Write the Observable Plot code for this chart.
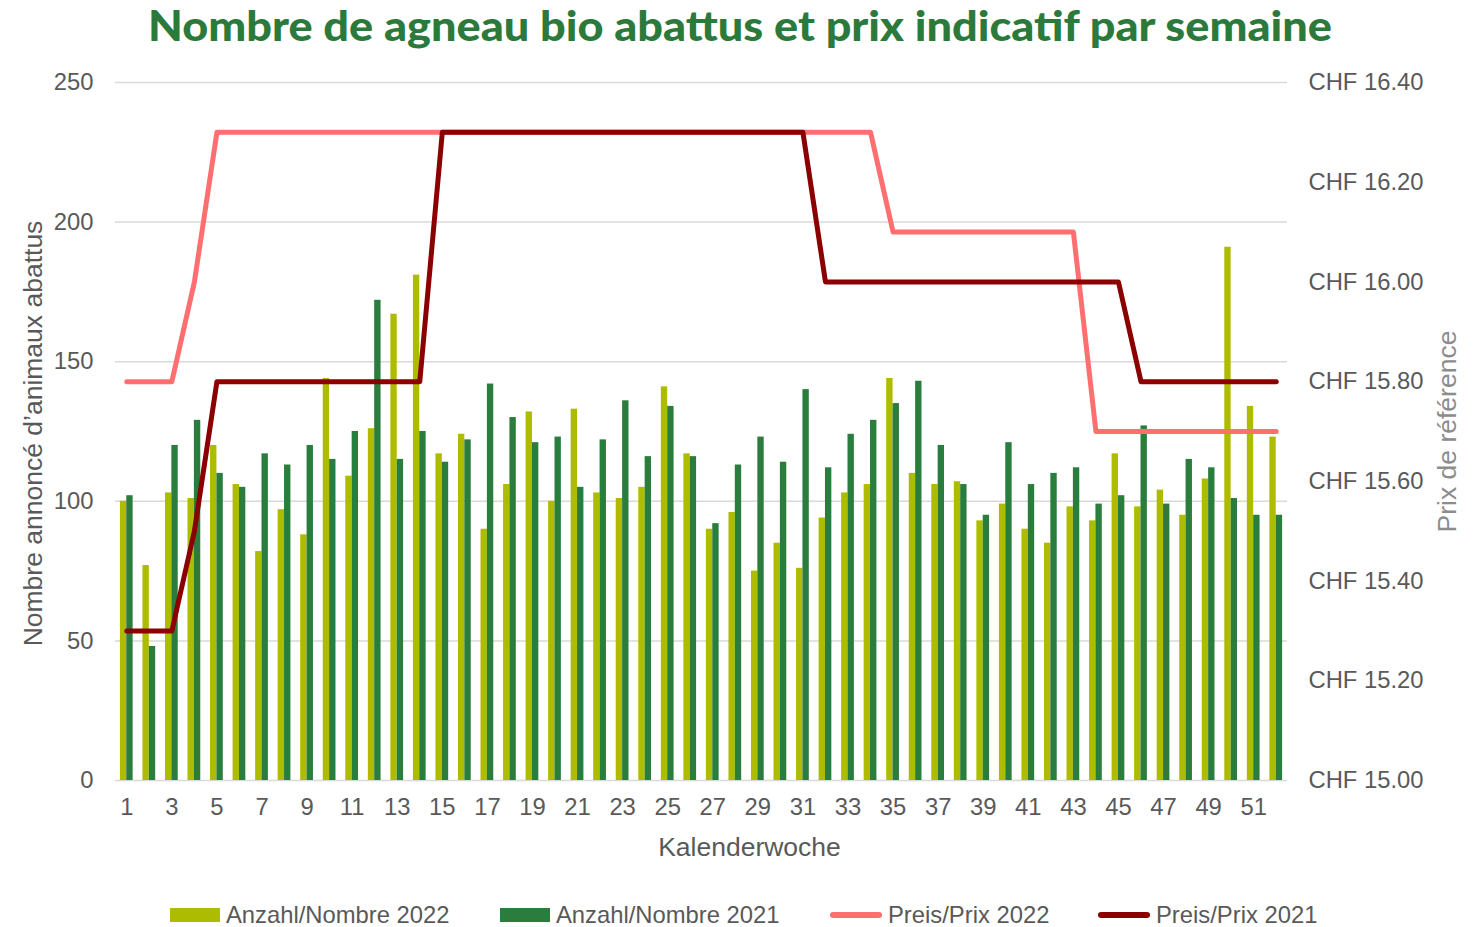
<!DOCTYPE html>
<html><head><meta charset="utf-8">
<script src="https://cdn.jsdelivr.net/npm/d3@7"></script>
<script src="https://cdn.jsdelivr.net/npm/@observablehq/plot@0.6"></script>
<style>
body{margin:0;background:#fff;font-family:"Liberation Sans",Arial,sans-serif;}
#wrap{position:relative;width:1473px;height:927px;overflow:hidden;background:#fff;}
#title{position:absolute;left:0;top:0;overflow:visible;}
#chart{position:absolute;left:0;top:60px;}
#legend{position:absolute;left:0;top:870px;width:1473px;height:57px;}
.li{position:absolute;top:0;height:57px;}
.sw{position:absolute;}
.lt{position:absolute;top:31px;font-size:23.8px;color:#595959;white-space:nowrap;line-height:27px;}
</style></head>
<body><div id="wrap">
<div id="chart"></div>
<svg id="title" width="1473" height="66"><text x="740" y="41" text-anchor="middle" textLength="1184" lengthAdjust="spacingAndGlyphs" font-family="Lato" font-weight="900" font-size="42" fill="#2B7A3B">Nombre de agneau bio abattus et prix indicatif par semaine</text></svg>
<div id="legend"></div>
</div>
<script>
const weeks = [1,2,3,4,5,6,7,8,9,10,11,12,13,14,15,16,17,18,19,20,21,22,23,24,25,26,27,28,29,30,31,32,33,34,35,36,37,38,39,40,41,42,43,44,45,46,47,48,49,50,51,52];
const count2022 = [100,77,103,101,120,106,82,97,88,144,109,126,167,181,117,124,90,106,132,100,133,103,101,105,141,117,90,96,75,85,76,94,103,106,144,110,106,107,93,99,90,85,98,93,117,98,104,95,108,191,134,123];
const count2021 = [102,48,120,129,110,105,117,113,120,115,125,172,115,125,114,122,142,130,121,123,105,122,136,116,134,116,92,113,123,114,140,112,124,129,135,143,120,106,95,121,106,110,112,99,102,127,99,115,112,101,95,95];
const price2022 = [15.8,15.8,15.8,16.0,16.3,16.3,16.3,16.3,16.3,16.3,16.3,16.3,16.3,16.3,16.3,16.3,16.3,16.3,16.3,16.3,16.3,16.3,16.3,16.3,16.3,16.3,16.3,16.3,16.3,16.3,16.3,16.3,16.3,16.3,16.1,16.1,16.1,16.1,16.1,16.1,16.1,16.1,16.1,15.7,15.7,15.7,15.7,15.7,15.7,15.7,15.7,15.7];
const price2021 = [15.3,15.3,15.3,15.5,15.8,15.8,15.8,15.8,15.8,15.8,15.8,15.8,15.8,15.8,16.3,16.3,16.3,16.3,16.3,16.3,16.3,16.3,16.3,16.3,16.3,16.3,16.3,16.3,16.3,16.3,16.3,16.0,16.0,16.0,16.0,16.0,16.0,16.0,16.0,16.0,16.0,16.0,16.0,16.0,16.0,15.8,15.8,15.8,15.8,15.8,15.8,15.8];
const countTicks = [0,50,100,150,200,250];
const priceTicks = [15.0,15.2,15.4,15.6,15.8,16.0,16.2,16.4];
const weekTicks = [1,3,5,7,9,11,13,15,17,19,21,23,25,27,29,31,33,35,37,39,41,43,45,47,49,51];
const seriesNames = ["Anzahl/Nombre 2022","Anzahl/Nombre 2021","Preis/Prix 2022","Preis/Prix 2021"];
const seriesColors = ["#AEBC00","#2A7D3C","#FF6F6F","#8B0000"];

const p2c = d3.scaleLinear([15, 16.4], [0, 250]);
const rows = weeks.map((w,i)=>({week:w, c22:count2022[i], c21:count2021[i], p22:p2c(price2022[i]), p21:p2c(price2021[i])}));

const chart = Plot.plot({
  width:1473, height:810,
  marginTop:22, marginBottom:90, marginLeft:115, marginRight:186,
  style:{fontFamily:"Liberation Sans, Arial, sans-serif", fontSize:"23.8px", color:"#595959", background:"#fff", overflow:"visible"},
  x:{type:"band", domain:weeks, padding:0, round:false},
  y:{domain:[0,250]},
  marks:[
    Plot.ruleY(countTicks,{stroke:"#d9d9d9", strokeWidth:1.5}),
    Plot.barY(rows,{x:"week", y:"c22", fill:seriesColors[0], insetLeft:4.9, insetRight:11.27}),
    Plot.barY(rows,{x:"week", y:"c21", fill:seriesColors[1], insetLeft:11.27, insetRight:4.9}),
    Plot.lineY(rows,{x:"week", y:"p22", stroke:seriesColors[2], strokeWidth:5, strokeLinecap:"round", strokeLinejoin:"round"}),
    Plot.lineY(rows,{x:"week", y:"p21", stroke:seriesColors[3], strokeWidth:5, strokeLinecap:"round", strokeLinejoin:"round"}),
    Plot.axisY(countTicks,{anchor:"left", tickSize:0, tickPadding:22, label:null, tickFormat:d=>String(d)}),
    Plot.axisY(priceTicks.map(p=>p2c(p)),{anchor:"right", tickSize:0, tickPadding:21, label:null, tickFormat:d=>"CHF "+p2c.invert(d).toFixed(2)}),
    Plot.axisX(weekTicks,{anchor:"bottom", tickSize:0, tickPadding:18, label:null}),
    Plot.text(["Nombre annoncé d’animaux abattus"],{frameAnchor:"left", textAnchor:"middle", dx:-82, dy:2, rotate:-90, fontSize:26.5, fill:"#595959"}),
    Plot.text(["Prix de référence"],{frameAnchor:"right", textAnchor:"middle", dx:160, rotate:-90, fontSize:26.5, fill:"#8c8c8c"}),
    Plot.text(["Kalenderwoche"],{frameAnchor:"bottom", lineAnchor:"middle", dx:48, dy:67, fontSize:26.5, fill:"#595959"})
  ]
});
document.getElementById("chart").appendChild(chart);

// legend
const legend = document.getElementById("legend");
const legendPos = [170, 500, 830, 1098];
seriesNames.forEach((name,i)=>{
  const item = document.createElement("div");
  item.className = "li";
  item.style.left = legendPos[i] + "px";
  const sw = document.createElement("div");
  sw.className = "sw";
  if (i < 2) {
    sw.style.cssText = `left:0;top:38px;width:50px;height:14px;background:${seriesColors[i]};`;
  } else {
    sw.style.cssText = `left:0;top:42px;width:52px;height:6px;border-radius:3px;background:${seriesColors[i]};`;
  }
  const t = document.createElement("div");
  t.className = "lt";
  t.style.left = (i < 2 ? 56 : 58) + "px";
  t.textContent = name;
  item.appendChild(sw); item.appendChild(t);
  legend.appendChild(item);
});
</script>
</body></html>
